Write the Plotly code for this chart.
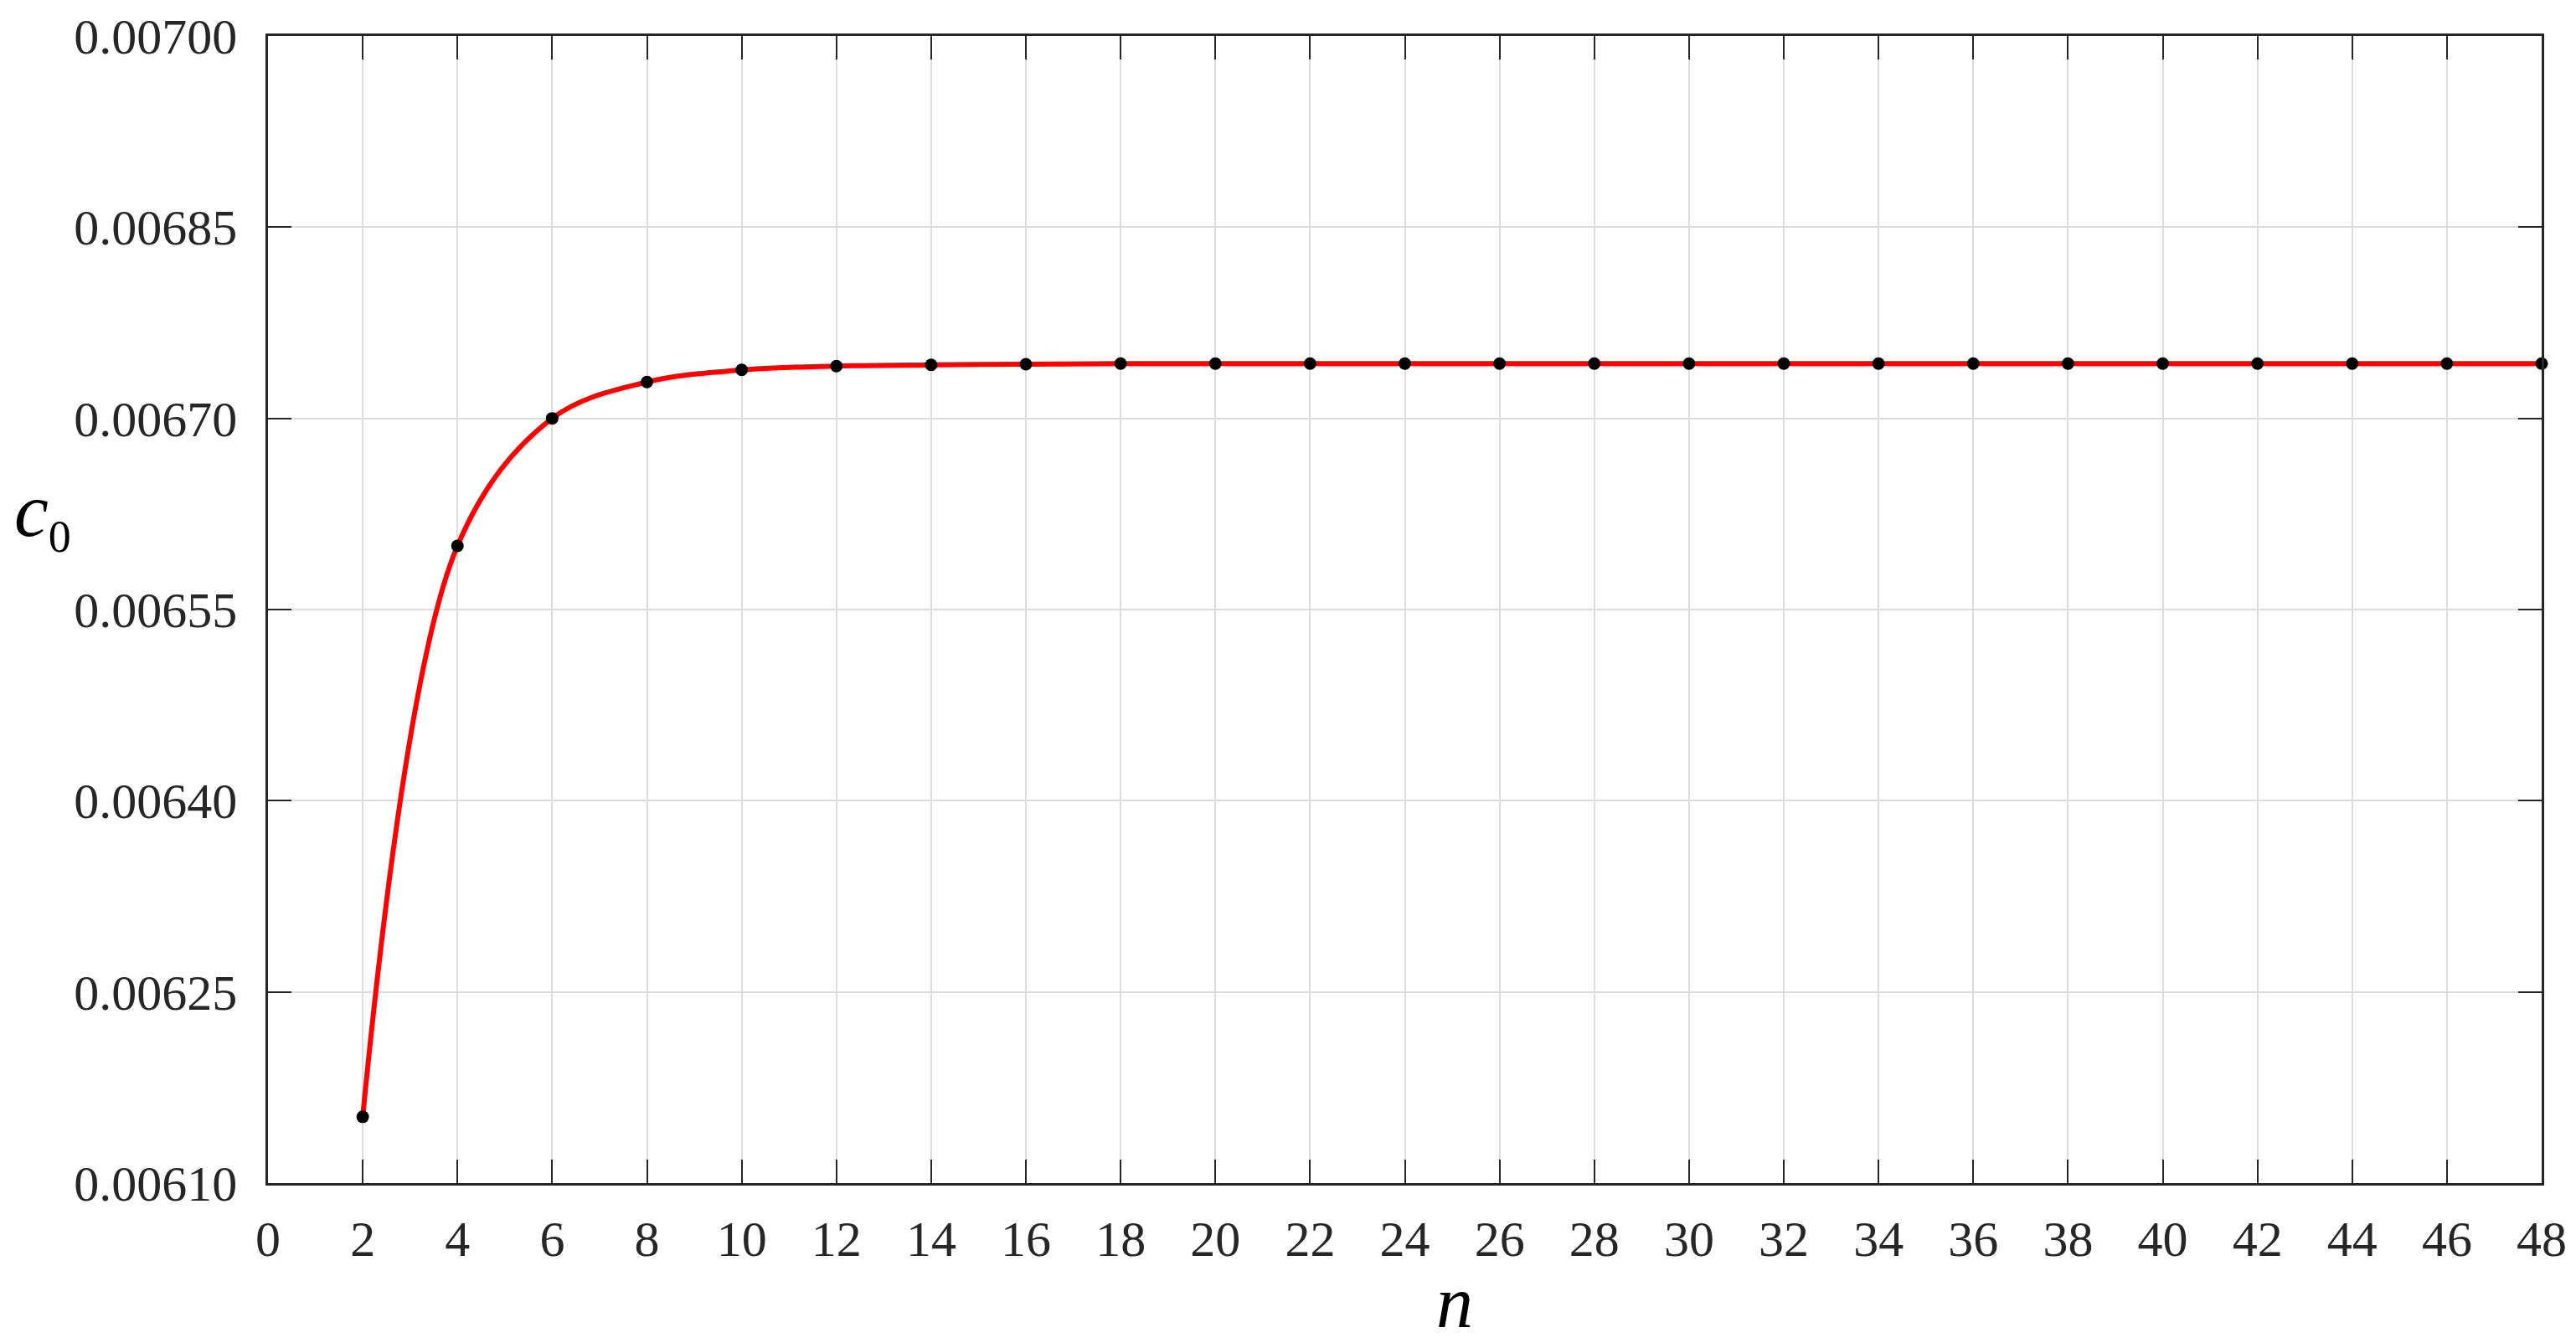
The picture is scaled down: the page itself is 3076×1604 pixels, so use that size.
import plotly.graph_objects as go

n_values = [2, 4, 6, 8, 10, 12, 14, 16, 18, 20, 22, 24, 26, 28, 30, 32, 34, 36, 38, 40, 42, 44, 46, 48]
c0_values = [0.006152, 0.006600, 0.006700, 0.0067285, 0.006738, 0.006741, 0.006742, 0.0067425,
             0.006743, 0.006743, 0.006743, 0.006743, 0.006743, 0.006743, 0.006743, 0.006743,
             0.006743, 0.006743, 0.006743, 0.006743, 0.006743, 0.006743, 0.006743, 0.006743]
x_ticks = list(range(0, 49, 2))
y_ticks = [0.00610, 0.00625, 0.00640, 0.00655, 0.00670, 0.00685, 0.00700]

W, H = 3076, 1604
L, R, T, B = 320, 41, 43, 191

fig = go.Figure()
fig.add_trace(go.Scatter(
    x=n_values, y=c0_values, mode="lines",
    line=dict(color="#ff0000", width=6, shape="spline", smoothing=1.0),
    showlegend=False, cliponaxis=False,
))
fig.add_trace(go.Scatter(
    x=n_values, y=c0_values, mode="markers",
    marker=dict(color="black", size=15, symbol="circle"),
    showlegend=False, cliponaxis=False,
))

axis_common = dict(
    showline=True, linecolor="#262626", linewidth=2.5, mirror="ticks",
    ticks="inside", ticklen=28, tickwidth=2, tickcolor="#262626",
    showgrid=True, gridcolor="#dcdcdc", gridwidth=2, zeroline=False,
    tickfont=dict(family="Liberation Serif, serif", size=60, color="#262626"),
)

fig.update_xaxes(range=[0, 48], tickvals=x_ticks, ticktext=[str(v) for v in x_ticks],
                 ticklabelstandoff=12, **axis_common)
fig.update_yaxes(range=[0.00610, 0.00700], tickvals=y_ticks, tickformat=".5f",
                 ticklabelstandoff=22, **axis_common)

fig.add_annotation(text="<i>n</i>", xref="paper", yref="paper", x=0.522, y=-0.104,
                   xanchor="center", yanchor="middle", showarrow=False,
                   font=dict(family="Liberation Serif, serif", size=88, color="black"))
fig.add_annotation(text="<i>c</i><sub><span style='font-size:54px'>0</span></sub>",
                   xref="paper", yref="paper", x=-0.1125, y=0.583,
                   xanchor="left", yanchor="middle", showarrow=False,
                   font=dict(family="Liberation Serif, serif", size=92, color="black"))

fig.update_layout(
    width=W, height=H,
    margin=dict(l=L, r=R, t=T, b=B),
    plot_bgcolor="white", paper_bgcolor="white",
)

fig.write_html("out.html", config={"displayModeBar": False},
               post_script="document.body.style.margin='0';")
